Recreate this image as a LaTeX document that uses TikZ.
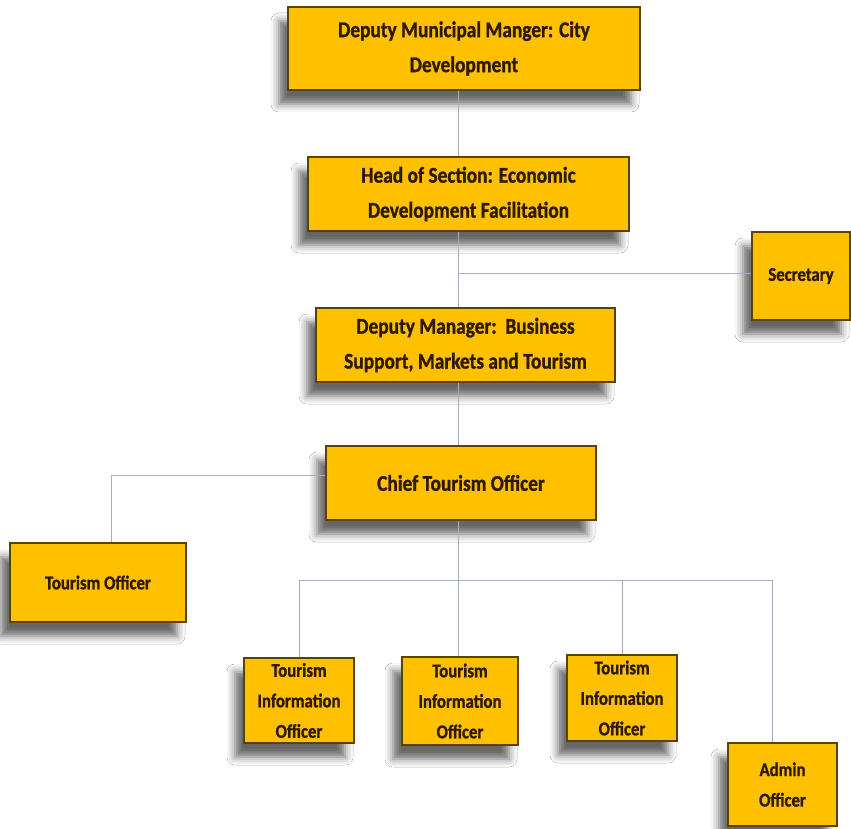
\documentclass[tikz,border=0pt]{standalone}
\usepackage{fontspec}
\setmainfont[FakeStretch=0.86,BoldFeatures={FakeBold=1.2}]{Carlito}
\usetikzlibrary{shadows.blur}
\definecolor{boxfill}{HTML}{FFC000}
\definecolor{boxedge}{HTML}{5A4300}
\definecolor{txt}{HTML}{2E1A00}
\definecolor{conn}{HTML}{A2AEC8}
\tikzset{
  orgbox/.style={draw=boxedge, line width=1.3pt, fill=boxfill, inner sep=0pt,
    align=center, text=txt, font=\bfseries\fontsize{22.5}{35}\selectfont,
    blur shadow={shadow xshift=-9pt, shadow yshift=-14pt, shadow blur radius=8pt, shadow opacity=60}},
  smallbox/.style={orgbox, font=\bfseries\fontsize{19.5}{30.5}\selectfont},
  conn/.style={draw=conn, line width=0.9pt}
}
\newcommand{\obox}[7]{%
  \node[#1, minimum width={(#5-#3)*1pt}, minimum height={(#6-#4)*1pt}] (#2) at ({(#3+#5)/2},{(#4+#6)/2}) {#7};}
\begin{document}
\begin{tikzpicture}[x=1pt,y=-1pt]
\useasboundingbox[fill=white] (0,0) rectangle (851,829);
\obox{orgbox}{dmm}{288}{7}{640}{90}{Deputy Municipal Manger: City\\Development}
\obox{orgbox}{hos}{308}{157}{629}{231}{Head of Section: Economic\\Development Facilitation}
\obox{smallbox}{sec}{752}{232}{850}{320}{Secretary}
\obox{orgbox}{dm}{316}{308}{615}{382}{Deputy Manager:\ \ Business\\Support, Markets and Tourism}
\obox{orgbox}{cto}{326}{446}{596}{520}{Chief Tourism Officer}
\obox{smallbox}{to}{10}{543}{186}{622}{Tourism Officer}
\obox{smallbox}{tioa}{244}{658}{354}{743}{Tourism\\Information\\Officer}
\obox{smallbox}{tiob}{402}{657}{518}{745}{Tourism\\Information\\Officer}
\obox{smallbox}{tioc}{567}{655}{677}{741}{Tourism\\Information\\Officer}
\obox{smallbox}{adm}{728}{743}{837}{826}{Admin\\Officer}
\coordinate (j1) at (458,273);
\coordinate (j2) at (111,475);
\coordinate (j3) at (458,580);
\coordinate (xa) at (299,580);
\coordinate (xc) at (622,580);
\coordinate (xd) at (772,580);
\draw[conn] (dmm.south -| j1) -- (hos.north -| j1);
\draw[conn] (hos.south -| j1) -- (dm.north -| j1);
\draw[conn] (j1) -- (sec.west |- j1);
\draw[conn] (dm.south -| j1) -- (cto.north -| j1);
\draw[conn] (cto.west |- j2) -- (j2) -- (to.north -| j2);
\draw[conn] (cto.south -| j3) -- (j3);
\draw[conn] (xa) -- (xd);
\draw[conn] (xa) -- (tioa.north -| xa);
\draw[conn] (j3) -- (tiob.north -| j3);
\draw[conn] (xc) -- (tioc.north -| xc);
\draw[conn] (xd) -- (adm.north -| xd);
\end{tikzpicture}
\end{document}
